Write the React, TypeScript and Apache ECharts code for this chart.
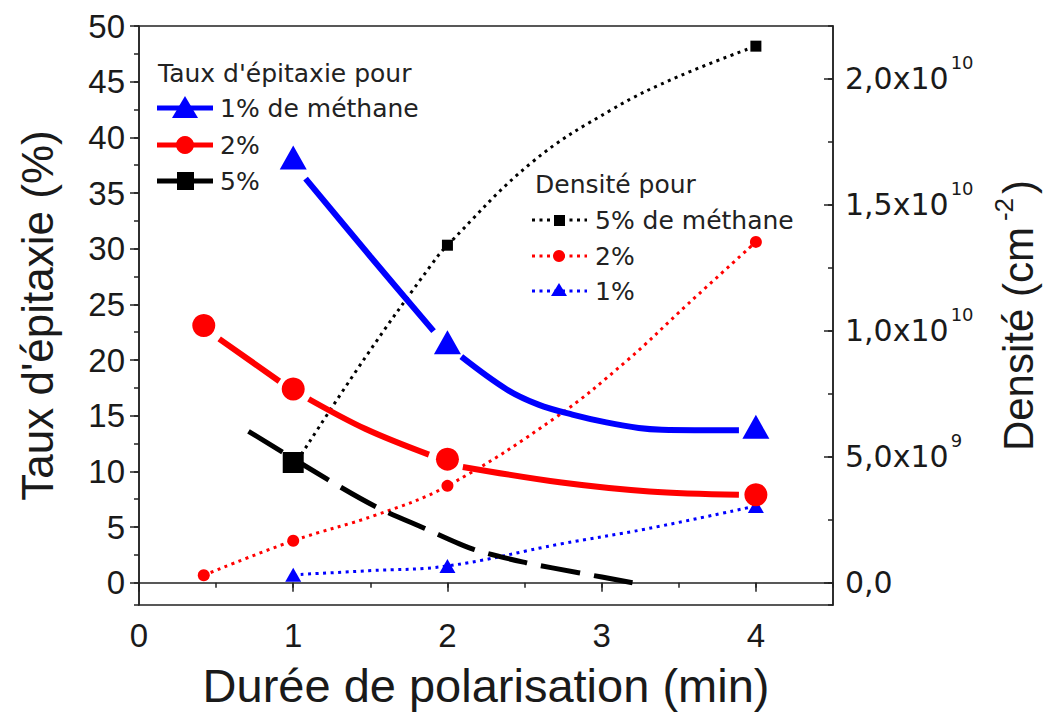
import React, { useEffect, useRef } from 'react';
import * as echarts from 'echarts';

// ---- Taux d'épitaxie (left axis, %) ----
const epi1X = [1, 2, 4];
const epi1Y = [38.2, 21.6, 14.0];
const epi2X = [0.42, 1, 2, 4];
const epi2Y = [23.1, 17.4, 11.1, 7.9];
const epi5X = [1];
const epi5Y = [10.8];

// fitted curves (null = gap around a marker)
const fit1X = [1.08, 1.5, 1.91, 2.0, 2.09, 2.38, 2.59, 2.81, 3.03, 3.24, 3.39, 3.89];
const fit1Y = [36.3, 29.3, 22.6, null, 20.3, 17.4, 16.0, 15.1, 14.4, 13.9, 13.75, 13.7];
const fit2X = [0.52, 0.91, 1.0, 1.1, 1.47, 1.88, 2.0, 2.1, 2.74, 3.31, 3.89];
const fit2Y = [21.9, 18.1, null, 16.5, 13.8, 11.5, null, 10.4, 9.0, 8.2, 7.9];
const fit5X = [0.71, 1.22, 1.54, 1.85, 2.17, 2.51, 2.85, 3.2];
const fit5Y = [13.6, 9.3, 6.8, 4.9, 3.0, 1.8, 0.9, 0.0];

// ---- Densité (right axis, cm^-2) ----
const dens5X = [1, 2, 4];
const dens5Y = [4.6e9, 1.34e10, 2.13e10];
const dens2X = [0.42, 1, 2, 4];
const dens2Y = [0.3e9, 1.67e9, 3.85e9, 1.353e10];
const dens1X = [1, 2, 4];
const dens1Y = [0.32e9, 0.67e9, 3.05e9];

// dotted curves
const curve5X = [1, 1.47, 1.9, 2, 2.55, 3.07, 3.5, 4];
const curve5Y = [4.6e9, 8.97e9, 1.266e10, 1.34e10, 1.67e10, 1.88e10, 2.01e10, 2.13e10];
const curve2X = [0.42, 1, 1.54, 2, 2.71, 3.16, 3.56, 4];
const curve2Y = [0.3e9, 1.67e9, 2.7e9, 3.85e9, 6.6e9, 8.8e9, 1.107e10, 1.353e10];
const curve1X = [1, 1.49, 2, 2.74, 3.29, 4];
const curve1Y = [0.32e9, 0.48e9, 0.67e9, 1.55e9, 2.14e9, 3.05e9];

// ---- texts ----
const xTitle = 'Durée de polarisation (min)';
const yLeftTitle = "Taux d'épitaxie (%)";
const legend1Title = "Taux d'épitaxie pour";
const legend1Labels = ['1% de méthane', '2%', '5%'];
const legend2Title = 'Densité pour';
const legend2Labels = ['5% de méthane', '2%', '1%'];

const BLUE = '#0000ff';
const RED = '#ff0000';
const BLACK = '#000000';
const TXT = '#1a1a1a';
const FONT = '"Liberation Sans", Arial, sans-serif';
const LFONT = '"DejaVu Sans", sans-serif';

const zip = (xs: number[], ys: (number | null)[]) =>
  xs.map((x, i) => [x, ys[i] === null ? '-' : ys[i]]);

const fmtDensity = (v: number) => {
  if (Math.abs(v) < 1) return '{m|0,0}';
  const e = Math.floor(Math.log10(Math.abs(v)) + 1e-9);
  const m = v / Math.pow(10, e);
  return `{m|${m.toFixed(1).replace('.', ',')}x10}{s|${e}}`;
};

export default function App() {
  const ref = useRef<HTMLDivElement>(null);

  useEffect(() => {
    if (!ref.current) return;
    const chart = echarts.init(ref.current, undefined, { renderer: 'svg' });

    const GL = 139;
    const GR = 833;
    const GT = 26;
    const GB = 605;

    const legendText = (x: number, y: number, text: string) => ({
      type: 'text',
      x,
      y,
      style: { text, font: `25px ${LFONT}`, fill: '#222', verticalAlign: 'middle', align: 'left' },
      z: 100,
    });

    const dotted = [3, 4.5];

    const graphic: any[] = [
      legendText(158, 73, legend1Title),
      { type: 'line', shape: { x1: 157, y1: 108, x2: 213, y2: 108 }, style: { stroke: BLUE, lineWidth: 5 }, z: 100 },
      { type: 'polygon', shape: { points: [[185, 96], [172, 118], [198, 118]] }, style: { fill: BLUE }, z: 101 },
      legendText(220, 108, legend1Labels[0]),
      { type: 'line', shape: { x1: 157, y1: 145, x2: 213, y2: 145 }, style: { stroke: RED, lineWidth: 5 }, z: 100 },
      { type: 'circle', shape: { cx: 185, cy: 145, r: 9 }, style: { fill: RED }, z: 101 },
      legendText(220, 145, legend1Labels[1]),
      { type: 'line', shape: { x1: 157, y1: 181, x2: 213, y2: 181 }, style: { stroke: BLACK, lineWidth: 5 }, z: 100 },
      { type: 'rect', shape: { x: 177, y: 172, width: 17, height: 18 }, style: { fill: BLACK }, z: 101 },
      legendText(220, 181, legend1Labels[2]),

      legendText(535, 184, legend2Title),
      { type: 'line', shape: { x1: 532, y1: 220, x2: 587, y2: 220 }, style: { stroke: BLACK, lineWidth: 3, lineDash: dotted }, z: 100 },
      { type: 'rect', shape: { x: 554, y: 215, width: 11, height: 11 }, style: { fill: BLACK }, z: 101 },
      legendText(595, 220, legend2Labels[0]),
      { type: 'line', shape: { x1: 532, y1: 256, x2: 587, y2: 256 }, style: { stroke: RED, lineWidth: 3, lineDash: dotted }, z: 100 },
      { type: 'circle', shape: { cx: 559, cy: 256, r: 6 }, style: { fill: RED }, z: 101 },
      legendText(595, 256, legend2Labels[1]),
      { type: 'line', shape: { x1: 532, y1: 291, x2: 587, y2: 291 }, style: { stroke: BLUE, lineWidth: 3, lineDash: dotted }, z: 100 },
      { type: 'polygon', shape: { points: [[559, 283], [551, 296], [567, 296]] }, style: { fill: BLUE }, z: 101 },
      legendText(595, 291, legend2Labels[2]),
    ];

    const axisLine = { show: true, lineStyle: { color: '#222', width: 1.5 } };

    const option: any = {
      animation: false,
      backgroundColor: '#ffffff',
      grid: {
        left: GL,
        top: GT,
        width: GR - GL,
        height: GB - GT,
        show: true,
        borderColor: '#222',
        borderWidth: 1.5,
        backgroundColor: 'transparent',
        containLabel: false,
        outerBoundsMode: 'none',
      },
      xAxis: [
        {
          type: 'value',
          min: 0,
          max: 4.5,
          interval: 1,
          position: 'bottom',
          axisLine,
          axisTick: { show: true, inside: false, length: 9, lineStyle: { color: '#222', width: 1.5 } },
          axisLabel: {
            show: true,
            margin: 14,
            fontSize: 33,
            fontFamily: FONT,
            color: TXT,
            showMaxLabel: false,
          },
          splitLine: { show: false },
          name: xTitle,
          nameLocation: 'middle',
          nameGap: 57,
          nameTextStyle: { fontSize: 47, fontFamily: FONT, color: TXT },
        },
        {
          type: 'value',
          min: 0,
          max: 4.5,
          interval: 0.5,
          position: 'bottom',
          axisLine: { show: false },
          axisTick: { show: true, inside: false, length: 5, lineStyle: { color: '#222', width: 1.5 } },
          axisLabel: { show: false },
          splitLine: { show: false },
        },
      ],
      yAxis: [
        {
          type: 'value',
          min: -2,
          max: 50,
          minInterval: 5,
          maxInterval: 5,
          position: 'left',
          axisLine,
          axisTick: { show: true, inside: false, length: 9, lineStyle: { color: '#222', width: 1.5 } },
          axisLabel: {
            show: true,
            margin: 14,
            fontSize: 33,
            fontFamily: FONT,
            color: TXT,
            showMinLabel: false,
            showMaxLabel: true,
          },
          splitLine: { show: false },
          name: yLeftTitle,
          nameLocation: 'middle',
          nameGap: 80,
          nameTextStyle: { fontSize: 44, fontFamily: FONT, color: TXT },
        },
        {
          type: 'value',
          min: -2,
          max: 50,
          minInterval: 2.5,
          maxInterval: 2.5,
          position: 'left',
          axisLine: { show: false },
          axisTick: { show: true, inside: false, length: 5, lineStyle: { color: '#222', width: 1.5 } },
          axisLabel: { show: false },
          splitLine: { show: false },
        },
        {
          type: 'value',
          min: -0.88e9,
          max: 2.21e10,
          minInterval: 5e9,
          maxInterval: 5e9,
          position: 'right',
          axisLine,
          axisTick: { show: true, inside: true, length: 9, lineStyle: { color: '#222', width: 1.5 } },
          axisLabel: {
            show: true,
            margin: 12,
            color: TXT,
            showMinLabel: false,
            showMaxLabel: false,
            formatter: fmtDensity,
            padding: [0, 0, 10, 0],
            rich: {
              m: { fontSize: 30, fontFamily: LFONT, color: TXT, verticalAlign: 'bottom', padding: [10, 0, 0, 0] },
              s: { fontSize: 18, fontFamily: LFONT, color: TXT, verticalAlign: 'top', padding: [0, 0, 0, 2] },
            },
          },
          splitLine: { show: false },
          name: '{a|Densité (cm}{s|-2}{a|)}',
          nameLocation: 'middle',
          nameGap: 158,
          nameTextStyle: {
            rich: {
              a: { fontSize: 42, fontFamily: FONT, color: TXT, verticalAlign: 'bottom', padding: [6, 0, 0, 0] },
              s: { fontSize: 26, fontFamily: FONT, color: TXT, verticalAlign: 'top', padding: [0, 4, 0, 6] },
            },
          },
        },
        {
          type: 'value',
          min: -0.88e9,
          max: 2.21e10,
          minInterval: 2.5e9,
          maxInterval: 2.5e9,
          position: 'right',
          axisLine: { show: false },
          axisTick: { show: true, inside: true, length: 5, lineStyle: { color: '#222', width: 1.5 } },
          axisLabel: { show: false },
          splitLine: { show: false },
        },
      ],
      graphic,
      series: [
        // density dotted curves (right axis)
        {
          type: 'line', xAxisIndex: 0, yAxisIndex: 2, smooth: 0.4, showSymbol: false, symbol: 'none',
          data: zip(curve5X, curve5Y), lineStyle: { color: BLACK, width: 3, type: dotted }, z: 2,
        },
        {
          type: 'line', xAxisIndex: 0, yAxisIndex: 2, smooth: 0.4, showSymbol: false, symbol: 'none',
          data: zip(curve2X, curve2Y), lineStyle: { color: RED, width: 3, type: dotted }, z: 2,
        },
        {
          type: 'line', xAxisIndex: 0, yAxisIndex: 2, smooth: 0.4, showSymbol: false, symbol: 'none',
          data: zip(curve1X, curve1Y), lineStyle: { color: BLUE, width: 3, type: dotted }, z: 2,
        },
        // density markers
        {
          type: 'scatter', xAxisIndex: 0, yAxisIndex: 2, symbol: 'rect', symbolSize: 11,
          data: zip(dens5X, dens5Y), itemStyle: { color: BLACK, opacity: 1 }, z: 3,
        },
        {
          type: 'scatter', xAxisIndex: 0, yAxisIndex: 2, symbol: 'circle', symbolSize: 12,
          data: zip(dens2X, dens2Y), itemStyle: { color: RED, opacity: 1 }, z: 3,
        },
        {
          type: 'scatter', xAxisIndex: 0, yAxisIndex: 2, symbol: 'triangle', symbolSize: [16, 14],
          data: zip(dens1X, dens1Y), itemStyle: { color: BLUE, opacity: 1 }, z: 3,
        },
        // epitaxy fitted curves (left axis)
        {
          type: 'line', xAxisIndex: 0, yAxisIndex: 0, smooth: 0.35, showSymbol: false, symbol: 'none',
          connectNulls: false, data: zip(fit1X, fit1Y), lineStyle: { color: BLUE, width: 6 }, z: 4,
        },
        {
          type: 'line', xAxisIndex: 0, yAxisIndex: 0, smooth: 0.35, showSymbol: false, symbol: 'none',
          connectNulls: false, data: zip(fit2X, fit2Y), lineStyle: { color: RED, width: 6 }, z: 4,
        },
        {
          type: 'line', xAxisIndex: 0, yAxisIndex: 0, smooth: 0.3, showSymbol: false, symbol: 'none',
          data: zip(fit5X, fit5Y), lineStyle: { color: BLACK, width: 5, type: [40, 14] }, z: 4,
        },
        // epitaxy markers
        {
          type: 'scatter', xAxisIndex: 0, yAxisIndex: 0, symbol: 'triangle', symbolSize: [27, 24],
          data: zip(epi1X, epi1Y), itemStyle: { color: BLUE, opacity: 1 }, z: 5,
        },
        {
          type: 'scatter', xAxisIndex: 0, yAxisIndex: 0, symbol: 'circle', symbolSize: 23,
          data: zip(epi2X, epi2Y), itemStyle: { color: RED, opacity: 1 }, z: 5,
        },
        {
          type: 'scatter', xAxisIndex: 0, yAxisIndex: 0, symbol: 'rect', symbolSize: 21,
          data: zip(epi5X, epi5Y), itemStyle: { color: BLACK, opacity: 1 }, z: 5,
        },
      ],
    };

    chart.setOption(option);
    return () => {
      chart.dispose();
    };
  }, []);

  return (
    <div
      ref={ref}
      style={{ position: 'absolute', left: 0, top: 0, width: 1054, height: 726, background: '#fff' }}
    />
  );
}
